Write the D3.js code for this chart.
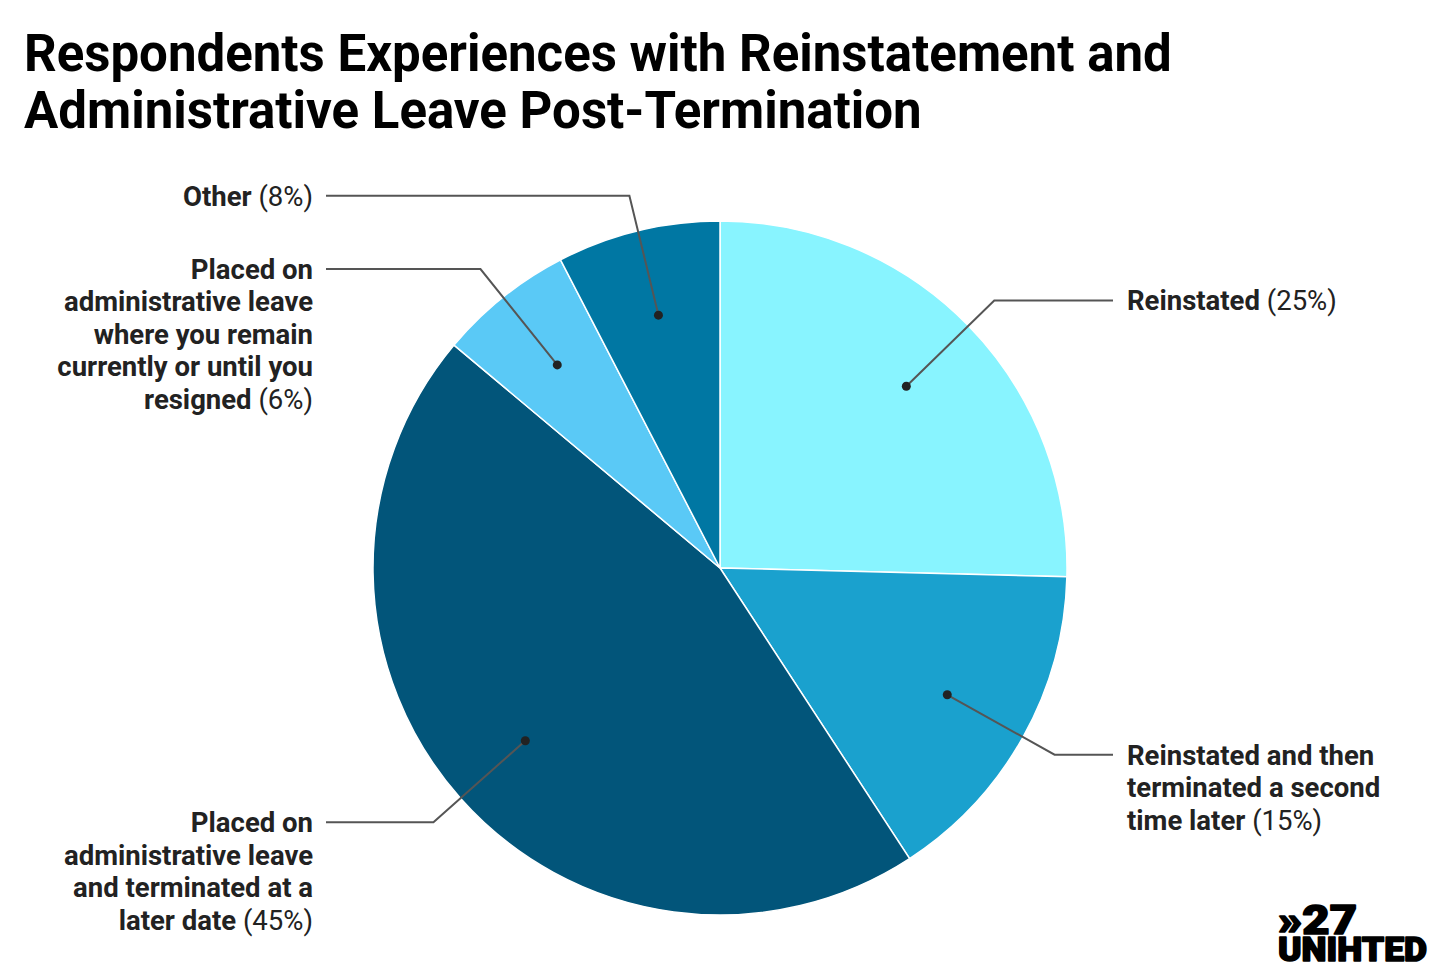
<!DOCTYPE html>
<html>
<head>
<meta charset="utf-8">
<script src="https://cdn.jsdelivr.net/npm/d3@7"></script>
<style>
  html, body { margin: 0; padding: 0; background: #fff; }
  svg { display: block; font-family: Roboto, "Noto Sans", sans-serif; }
</style>
</head>
<body>
<svg id="chart" width="1440" height="977"></svg>
<script>
// ---- Data ----
const categories = [
  "Reinstated",
  "Reinstated and then terminated a second time later",
  "Placed on administrative leave and terminated at a later date",
  "Placed on administrative leave where you remain currently or until you resigned",
  "Other"
];
const labelLines = [
  ["Reinstated"],
  ["Reinstated and then", "terminated a second", "time later"],
  ["Placed on", "administrative leave", "and terminated at a", "later date"],
  ["Placed on", "administrative leave", "where you remain", "currently or until you", "resigned"],
  ["Other"]
];
const values = [25.4, 15.4, 45.3, 6.3, 7.6];
const colors = ["#88F4FF", "#1AA1CE", "#02557A", "#5AC9F6", "#0077A3"];
const titleLines = [
  "Respondents Experiences with Reinstatement and",
  "Administrative Leave Post-Termination"
];
const logoLines = ["»27", "UNIHTED"];

// ---- Layout ----
const svg = d3.select("#chart");
const cx = 720, cy = 568, R = 347;
const lineH = 32.5;

svg.append("g").selectAll("text").data(titleLines).join("text")
  .attr("x", 24)
  .attr("y", (d, i) => 71 + i * 57)
  .attr("font-size", 51)
  .attr("font-weight", 700)
  .attr("fill", "#000")
  .text(d => d);

const total = d3.sum(values);
const data = categories.map((c, i) => ({ name: c, value: values[i], lines: labelLines[i], color: colors[i] }));
const pie = d3.pie().sort(null).value(d => d.value);
const arcs = pie(data);
const arc = d3.arc().innerRadius(0).outerRadius(R);
const dotArc = d3.arc().innerRadius(R * 0.75).outerRadius(R * 0.75);
const elbowArc = d3.arc().innerRadius(R * 1.104).outerRadius(R * 1.104);

const g = svg.append("g").attr("transform", `translate(${cx},${cy})`);
g.selectAll("path.slice").data(arcs).join("path")
  .attr("class", "slice")
  .attr("d", arc)
  .attr("fill", d => d.data.color)
  .attr("stroke", "#fff")
  .attr("stroke-width", 1.5);

const rightX = 1113 - cx, leftX = 326 - cx;
const isRight = d => (d.startAngle + d.endAngle) / 2 < Math.PI;

g.selectAll("polyline").data(arcs).join("polyline")
  .attr("fill", "none")
  .attr("stroke", "#555")
  .attr("stroke-width", 2)
  .attr("points", d => {
    const p0 = dotArc.centroid(d);
    const p1 = elbowArc.centroid(d);
    const p2 = [isRight(d) ? rightX : leftX, p1[1]];
    return [p0, p1, p2].map(p => p.join(",")).join(" ");
  });

g.selectAll("circle").data(arcs).join("circle")
  .attr("cx", d => dotArc.centroid(d)[0])
  .attr("cy", d => dotArc.centroid(d)[1])
  .attr("r", 4.5)
  .attr("fill", "#222");

const fmt = v => Math.round(v / total * 100) + "%";
arcs.forEach(d => {
  const right = isRight(d);
  const y0 = elbowArc.centroid(d)[1];
  const t = g.append("text")
    .attr("text-anchor", right ? "start" : "end")
    .attr("font-size", 27.5)
    .attr("fill", "#222");
  d.data.lines.forEach((ln, i) => {
    const ts = t.append("tspan")
      .attr("x", right ? 1127 - cx : 313 - cx)
      .attr("y", y0 + i * lineH)
      .attr("dy", "0.36em");
    ts.append("tspan").attr("font-weight", 700).text(ln);
    if (i === d.data.lines.length - 1) {
      ts.append("tspan").attr("font-weight", 400).text(" (" + fmt(d.data.value) + ")");
    }
  });
});

// Logo (single text element, two lines)
const logo = svg.append("text")
  .attr("fill", "#000").attr("stroke", "#000").attr("stroke-width", 1.6)
  .attr("stroke-linejoin", "round")
  .attr("font-weight", 900)
  .attr("font-family", "Roboto, Lato, sans-serif");
logo.append("tspan").attr("x", 1278).attr("y", 934).attr("font-size", 40)
  .attr("textLength", 79).attr("lengthAdjust", "spacingAndGlyphs").text(logoLines[0]);
logo.append("tspan").attr("x", 1278).attr("y", 961).attr("font-size", 34)
  .attr("textLength", 149).attr("lengthAdjust", "spacingAndGlyphs").text(logoLines[1]);
</script>
</body>
</html>
